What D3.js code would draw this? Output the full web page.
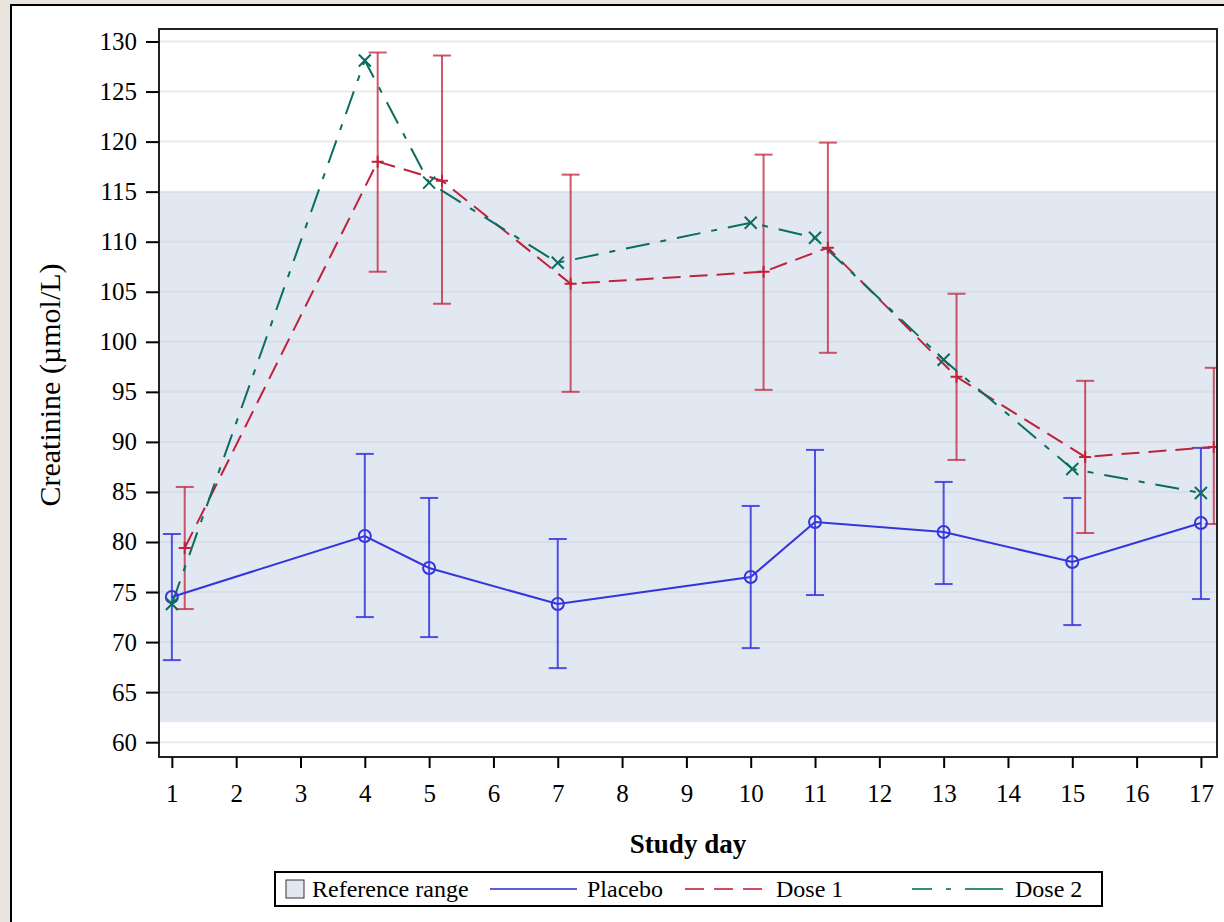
<!DOCTYPE html>
<html>
<head>
<meta charset="utf-8">
<script src="https://cdn.jsdelivr.net/npm/d3@7"></script>
<style>
  body { margin: 0; background: #e9e5de; }
  svg { display: block; }
  text { font-family: "Liberation Serif", "DejaVu Serif", serif; fill: #000; }
</style>
</head>
<body>
<div class="svg-container"></div>
<script>
// study days with data
var days = [1, 4, 5, 7, 10, 11, 13, 15, 17];

var placeboMean  = [74.5, 80.6, 77.4, 73.8, 76.5, 82.0, 81.0, 78.0, 81.9];
var placeboUpper = [80.8, 88.8, 84.4, 80.3, 83.6, 89.2, 86.0, 84.4, 89.4];
var placeboLower = [68.2, 72.5, 70.5, 67.4, 69.4, 74.7, 75.8, 71.7, 74.3];

var dose1Mean  = [79.4, 118.0, 116.1, 105.8, 107.0, 109.4, 96.5, 88.5, 89.5];
var dose1Upper = [85.5, 128.9, 128.6, 116.7, 118.7, 119.9, 104.8, 96.1, 97.4];
var dose1Lower = [73.3, 107.0, 103.8, 95.0, 95.2, 98.9, 88.2, 80.9, 81.8];

var dose2Mean = [73.8, 128.1, 115.9, 107.9, 111.9, 110.4, 98.2, 87.3, 84.9];

var refLow = 62, refHigh = 115;
var xTicks = d3.range(1, 18);
var yTicks = d3.range(60, 131, 5);

var width = 1224, height = 922;
var pLeft = 159, pTop = 29, pRight = 1217, pBottom = 757;

var svg = d3.select(".svg-container").append("svg")
    .attr("width", width)
    .attr("height", height);

// white panel
svg.append("rect")
    .attr("x", 11).attr("y", 5)
    .attr("width", width).attr("height", height)
    .attr("fill", "#fff")
    .attr("stroke", "#000")
    .attr("stroke-width", 2);

var x = d3.scaleLinear().domain([0.8, 17.25]).range([pLeft, pRight]);
var y = d3.scaleLinear().domain([58.52, 131.25]).range([pBottom, pTop]);

svg.append("clipPath").attr("id", "plotclip")
    .append("rect")
    .attr("x", pLeft).attr("y", pTop)
    .attr("width", pRight - pLeft).attr("height", pBottom - pTop);

var plot = svg.append("g").attr("clip-path", "url(#plotclip)");

// gridlines
plot.selectAll(".grid")
    .data(yTicks)
    .enter().append("line")
    .attr("x1", pLeft).attr("x2", pRight)
    .attr("y1", d => y(d)).attr("y2", d => y(d))
    .attr("stroke", "#eaeaea")
    .attr("stroke-width", 2);

// reference band
plot.append("rect")
    .attr("x", pLeft).attr("width", pRight - pLeft)
    .attr("y", y(refHigh)).attr("height", y(refLow) - y(refHigh))
    .attr("fill", "#c3d2e6")
    .attr("fill-opacity", 0.5);

plot.selectAll(".grid2")
    .data(yTicks.filter(d => d > refLow && d < refHigh))
    .enter().append("line")
    .attr("x1", pLeft).attr("x2", pRight)
    .attr("y1", d => y(d)).attr("y2", d => y(d))
    .attr("stroke", "#d8dee8")
    .attr("stroke-width", 2);

var blue = "#3535dc", red = "#c0223a", teal = "#0a6e5c";
var dash1 = "18 9", dash2 = "24 11 6 11";
var off1 = 0.2;

function errorBars(uppers, lowers, offset, color, opacity) {
    var g = plot.append("g")
        .attr("stroke", color)
        .attr("stroke-opacity", opacity)
        .attr("stroke-width", 2);
    days.forEach(function(d, i) {
        var cx = x(d + offset);
        g.append("line").attr("x1", cx).attr("x2", cx)
            .attr("y1", y(uppers[i])).attr("y2", y(lowers[i]));
        g.append("line").attr("x1", cx - 9).attr("x2", cx + 9)
            .attr("y1", y(uppers[i])).attr("y2", y(uppers[i]));
        g.append("line").attr("x1", cx - 9).attr("x2", cx + 9)
            .attr("y1", y(lowers[i])).attr("y2", y(lowers[i]));
    });
}

errorBars(placeboUpper, placeboLower, 0, blue, 0.85);
errorBars(dose1Upper, dose1Lower, off1, red, 0.75);

function seriesLine(means, offset) {
    return d3.line()
        .x(function(d, i) { return x(days[i] + offset); })
        .y(function(d) { return y(d); })(means);
}

plot.append("path")
    .attr("d", seriesLine(placeboMean, 0))
    .attr("fill", "none").attr("stroke", blue).attr("stroke-width", 2);

plot.append("path")
    .attr("d", seriesLine(dose1Mean, off1))
    .attr("fill", "none").attr("stroke", red).attr("stroke-width", 2)
    .attr("stroke-dasharray", dash1);

plot.append("path")
    .attr("d", seriesLine(dose2Mean, 0))
    .attr("fill", "none").attr("stroke", teal).attr("stroke-width", 2)
    .attr("stroke-dasharray", dash2);

// markers
plot.selectAll(".pmark")
    .data(placeboMean)
    .enter().append("circle")
    .attr("cx", (d, i) => x(days[i]))
    .attr("cy", d => y(d))
    .attr("r", 6)
    .attr("fill", "none")
    .attr("stroke", blue)
    .attr("stroke-width", 2);

plot.selectAll(".d1mark")
    .data(dose1Mean)
    .enter().append("path")
    .attr("transform", (d, i) => "translate(" + x(days[i] + off1) + "," + y(d) + ")")
    .attr("d", "M-6,0H6M0,-6V6")
    .attr("stroke", red)
    .attr("stroke-width", 2);

plot.selectAll(".d2mark")
    .data(dose2Mean)
    .enter().append("path")
    .attr("transform", (d, i) => "translate(" + x(days[i]) + "," + y(d) + ")")
    .attr("d", "M-6,-6L6,6M-6,6L6,-6")
    .attr("stroke", teal)
    .attr("stroke-width", 2);

// frame
svg.append("rect")
    .attr("x", pLeft).attr("y", pTop)
    .attr("width", pRight - pLeft).attr("height", pBottom - pTop)
    .attr("fill", "none")
    .attr("stroke", "#222")
    .attr("stroke-width", 2);

// axes
var yAxis = svg.append("g")
    .attr("transform", "translate(" + pLeft + ",0)")
    .call(d3.axisLeft(y).tickValues(yTicks).tickSize(13).tickPadding(9));
var xAxis = svg.append("g")
    .attr("transform", "translate(0," + pBottom + ")")
    .call(d3.axisBottom(x).tickValues(xTicks).tickSize(11).tickPadding(15));

[yAxis, xAxis].forEach(function(a) {
    a.select(".domain").remove();
    a.selectAll(".tick line").attr("stroke", "#000").attr("stroke-width", 2);
    a.selectAll(".tick text")
        .style("font-family", '"Liberation Serif", serif')
        .style("font-size", "25px")
        .attr("fill", "#000");
});
xAxis.selectAll(".tick text").attr("dy", "0.75em");

// axis titles
svg.append("text")
    .attr("x", (pLeft + pRight) / 2)
    .attr("y", 853)
    .style("text-anchor", "middle")
    .style("font-size", "27px")
    .style("font-weight", "bold")
    .text("Study day");

svg.append("text")
    .attr("transform", "rotate(-90)")
    .attr("x", -385)
    .attr("y", 60)
    .style("text-anchor", "middle")
    .style("font-size", "30px")
    .text("Creatinine (\u00b5mol/L)");

// legend
var legend = svg.append("g");
legend.append("rect")
    .attr("x", 275).attr("y", 872)
    .attr("width", 827).attr("height", 34)
    .attr("fill", "#fff")
    .attr("stroke", "#000")
    .attr("stroke-width", 2);

var ly = 889;
legend.append("rect")
    .attr("x", 286).attr("y", ly - 9)
    .attr("width", 18).attr("height", 18)
    .attr("fill", "#e1e8f2")
    .attr("stroke", "#333")
    .attr("stroke-width", 1);

var legendItems = [
    { label: "Reference range", tx: 312 },
    { label: "Placebo", x1: 490, x2: 577, tx: 587, color: blue, dash: null },
    { label: "Dose 1", x1: 685, x2: 763, tx: 776, color: red, dash: "19 10" },
    { label: "Dose 2", x1: 912, x2: 1003, tx: 1015, color: teal, dash: "20 14 5 14 40" }
];

legendItems.forEach(function(it) {
    if (it.color) {
        legend.append("line")
            .attr("x1", it.x1).attr("x2", it.x2)
            .attr("y1", ly).attr("y2", ly)
            .attr("stroke", it.color)
            .attr("stroke-opacity", 0.8)
            .attr("stroke-width", 2)
            .attr("stroke-dasharray", it.dash);
    }
    legend.append("text")
        .attr("x", it.tx)
        .attr("y", ly)
        .attr("dy", "0.35em")
        .style("font-size", "24px")
        .text(it.label);
});
</script>
</body>
</html>
